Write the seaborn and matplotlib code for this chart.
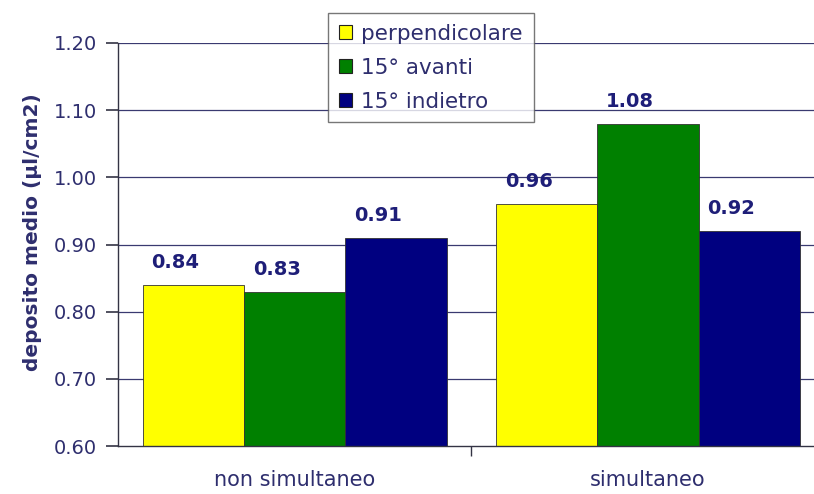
import matplotlib
matplotlib.use("Agg")
import matplotlib.pyplot as plt
import seaborn as sns
import pandas as pd

# data
groups = ["non simultaneo", "simultaneo"]
series = ["perpendicolare", "15° avanti", "15° indietro"]
perpendicolare = [0.84, 0.96]
avanti = [0.83, 1.08]
indietro = [0.91, 0.92]
y_ticks = [0.60, 0.70, 0.80, 0.90, 1.00, 1.10, 1.20]

colors = ["#FFFF00", "#008000", "#000080"]
text_col = "#2E2E6E"

rows = []
for name, vals in zip(series, [perpendicolare, avanti, indietro]):
    for g, v in zip(groups, vals):
        rows.append({"gruppo": g, "serie": name, "deposito": v})
df = pd.DataFrame(rows)

sns.set_style("white")
plt.rcParams["font.family"] = ["DejaVu Sans"]

fig = plt.figure(figsize=(8.14, 4.94), dpi=100)
ax = fig.add_axes([0.145, 0.097, 0.868, 0.816])

sns.barplot(data=df, x="gruppo", y="deposito", hue="serie", order=groups,
            hue_order=series, palette=colors, width=0.86, gap=0,
            edgecolor="#333333", linewidth=0.6, ax=ax, legend=False,
            errorbar=None, saturation=1)

ax.set_ylim(0.6, 1.2)
ax.set_xlim(-0.5, 1.5)
ax.set_yticks(y_ticks)
ax.set_yticklabels([f"{t:.2f}" for t in y_ticks], fontsize=14, color=text_col)
ax.set_xticks([0, 1])
ax.set_xticklabels(groups, fontsize=15, color=text_col)
ax.tick_params(axis="x", which="major", length=0, pad=17)
ax.tick_params(axis="y", which="major", left=True, length=9, direction="out",
               color="#333344", width=1.2, pad=6)
ax.set_xticks([0.5], minor=True)
ax.tick_params(axis="x", which="minor", bottom=True, length=7, direction="out",
               color="#333344", width=1)

for t in y_ticks[1:]:
    ax.axhline(t, color="#3A3A70", linewidth=0.9, zorder=0)

for side in ["top", "right"]:
    ax.spines[side].set_visible(False)
for side in ["left", "bottom"]:
    ax.spines[side].set_color("#333344")
    ax.spines[side].set_linewidth(1)

ax.set_xlabel("")
ax.set_ylabel("deposito medio (µl/cm2)", fontsize=14.5, fontweight="bold",
              color=text_col)
ax.yaxis.set_label_coords(-0.108, 0.53)

for bar in ax.patches:
    h = bar.get_height()
    ax.annotate(f"{h:.2f}", (bar.get_x() + bar.get_width() / 2, h),
                xytext=(-18, 13), textcoords="offset pixels",
                ha="center", va="bottom", fontsize=14, fontweight="bold",
                color="#1E1E78")

handles = [plt.Rectangle((0, 0), 1, 1, facecolor=c, edgecolor="#222222", linewidth=0.8)
           for c in colors]
leg = fig.legend(handles, series, loc="upper left", bbox_to_anchor=(0.403, 0.974),
                 borderaxespad=0, fontsize=15.5, frameon=True, fancybox=False,
                 handlelength=0.6, handleheight=0.6, handletextpad=0.45,
                 borderpad=0.5, labelspacing=0.65, edgecolor="#555555")
leg.get_frame().set_linewidth(1)
for txt in leg.get_texts():
    txt.set_color(text_col)

fig.savefig("out.png", dpi=100)
